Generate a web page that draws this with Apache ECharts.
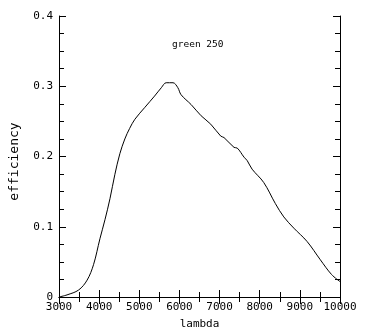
<!DOCTYPE html>
<html>
<head>
<meta charset="utf-8">
<script src="https://cdn.jsdelivr.net/npm/echarts@6/dist/echarts.min.js"></script>
<style>
html,body{margin:0;padding:0;background:#fff;}
#chart{width:372px;height:335px;}
</style>
</head>
<body>
<div id="chart"></div>
<script>
var lambda = [3000, 3200, 3490, 3700, 3860, 4020, 4145, 4270, 4390, 4516, 4640, 4760, 4890, 5140, 5380, 5550, 5670, 5840, 5960, 6040, 6290, 6540, 6780, 7030, 7110, 7360, 7440, 7610, 7690, 7810, 8100, 8390, 8600, 8850, 9180, 9510, 9790, 10000];
var efficiency = [0.000, 0.003, 0.010, 0.024, 0.046, 0.083, 0.110, 0.140, 0.174, 0.204, 0.225, 0.240, 0.253, 0.270, 0.286, 0.298, 0.305, 0.305, 0.298, 0.288, 0.274, 0.258, 0.246, 0.229, 0.227, 0.213, 0.212, 0.199, 0.194, 0.182, 0.163, 0.133, 0.114, 0.098, 0.079, 0.053, 0.032, 0.022];
var xTicks = [3000, 10000, 1000];
var yTicks = [0, 0.4, 0.1];
var labelText = 'green 250';
var xName = 'lambda';
var yName = 'efficiency';

var FONT = '"DejaVu Sans Mono", monospace';
var data = lambda.map(function (l, i) { return [l, efficiency[i]]; });

function axisCommon(show) {
  return {
    axisLine: { show: true, lineStyle: { color: '#000', width: 1 } },
    axisTick: { show: true, inside: true, length: 7, lineStyle: { color: '#000' } },
    splitLine: { show: false },
    axisLabel: { show: show, color: '#000', fontFamily: FONT, fontSize: 11 }
  };
}

var chart = echarts.init(document.getElementById('chart'), null, { renderer: 'canvas' });
var xb = axisCommon(true);
var xt = axisCommon(false);
var yl = axisCommon(true);
var yr = axisCommon(false);

chart.setOption({
  animation: false,
  backgroundColor: '#fff',
  grid: { left: 57, right: 32, top: 16, bottom: 36, containLabel: false },
  graphic: [{
    type: 'text', left: 172, top: 40,
    style: { text: labelText, fill: '#000', font: '9.5px ' + FONT }
  }],
  xAxis: [
    Object.assign(xb, {
      type: 'value', position: 'bottom', min: xTicks[0], max: xTicks[1], interval: xTicks[2],
      minorTick: { show: true, splitNumber: 2, length: 5, lineStyle: { color: '#000' } },
      name: xName, nameLocation: 'middle', nameGap: 22,
      nameTextStyle: { color: '#000', fontFamily: FONT, fontSize: 11 },
      axisLabel: Object.assign(xb.axisLabel, { margin: 5, formatter: function (v) { return String(v); } })
    }),
    Object.assign(xt, {
      type: 'value', position: 'top', min: xTicks[0], max: xTicks[1], interval: xTicks[2],
      minorTick: { show: true, splitNumber: 2, length: 5, lineStyle: { color: '#000' } }
    })
  ],
  yAxis: [
    Object.assign(yl, {
      type: 'value', position: 'left', min: yTicks[0], max: yTicks[1], interval: yTicks[2],
      minorTick: { show: true, splitNumber: 4, length: 5, lineStyle: { color: '#000' } },
      name: yName, nameLocation: 'middle', nameGap: 38, nameRotate: 90,
      nameTextStyle: { color: '#000', fontFamily: FONT, fontSize: 13, padding: [0, 10, 0, 0] },
      axisLabel: Object.assign(yl.axisLabel, { margin: 6, formatter: function (v) { return v === 0 ? '0' : v.toFixed(1); } })
    }),
    Object.assign(yr, {
      type: 'value', position: 'right', min: yTicks[0], max: yTicks[1], interval: yTicks[2],
      minorTick: { show: true, splitNumber: 4, length: 5, lineStyle: { color: '#000' } }
    })
  ],
  series: [{
    type: 'line', data: data, xAxisIndex: 0, yAxisIndex: 0,
    showSymbol: false, smooth: 0.35,
    lineStyle: { color: '#000', width: 1 }
  }]
});
</script>
</body>
</html>
